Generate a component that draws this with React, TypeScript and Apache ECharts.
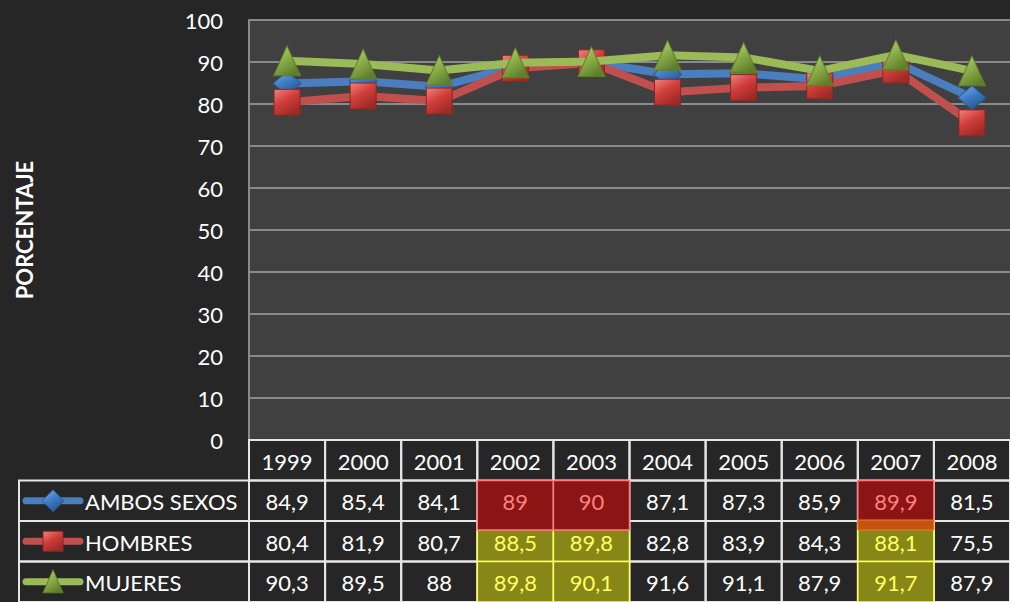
import { useEffect, useRef } from "react";
import * as echarts from "echarts";

const years = ["1999", "2000", "2001", "2002", "2003", "2004", "2005", "2006", "2007", "2008"];
const seriesNames = ["AMBOS SEXOS", "HOMBRES", "MUJERES"];
const ambos = [84.9, 85.4, 84.1, 89, 90, 87.1, 87.3, 85.9, 89.9, 81.5];
const hombres = [80.4, 81.9, 80.7, 88.5, 89.8, 82.8, 83.9, 84.3, 88.1, 75.5];
const mujeres = [90.3, 89.5, 88, 89.8, 90.1, 91.6, 91.1, 87.9, 91.7, 87.9];
// conditional highlight of table cells
const ambosMark = ["", "", "", "red", "red", "", "", "", "redOrange", ""];
const hombresMark = ["", "", "", "olive", "olive", "", "", "", "olive", ""];
const mujeresMark = ["", "", "", "olive", "olive", "", "", "", "olive", ""];
const yMin = 0;
const yMax = 100;
const yStep = 10;

const FONT = "Lato";
const BG = "#262626";
const COLORS = ["#4A7EBF", "#C0504D", "#9BBB59"];

const fmt = (v: number) => String(v).replace(".", ",");

type Cell = { value: [number, number]; text: string; mark: string };

function buildCells(): Cell[] {
  const cells: Cell[] = [];
  years.forEach((y, c) => cells.push({ value: [c, 0], text: y, mark: "" }));
  const rows = [hombres, mujeres, ambos];
  const marks = [hombresMark, mujeresMark, ambosMark];
  const rowIdx = [2, 3, 1];
  rows.forEach((arr, k) => {
    arr.forEach((v, c) => cells.push({ value: [c, rowIdx[k]], text: fmt(v), mark: marks[k][c] }));
  });
  return cells;
}

function grad(c1: string, c2: string, c3: string) {
  return new echarts.graphic.LinearGradient(0, 0, 0.6, 1, [
    { offset: 0, color: c1 },
    { offset: 0.5, color: c2 },
    { offset: 1, color: c3 },
  ]);
}

export default function App() {
  const ref = useRef<HTMLDivElement>(null);
  useEffect(() => {
    if (!ref.current) return;
    const chart = echarts.init(ref.current, undefined, { renderer: "svg" });
    const cells = buildCells();
    const labelData = seriesNames.map((n, i) => ({ value: [0, i + 1], name: n }));

    const cellRender = (params: any, api: any) => {
      const cell = cells[params.dataIndex];
      const c = api.coord([api.value(0), api.value(1)]);
      const s = api.size([1, 1]);
      const w = s[0];
      const h = s[1];
      const x0 = c[0] - w / 2;
      const y0 = c[1] - h / 2;
      const children: any[] = [];
      let fill = "transparent";
      let stroke = "#E6E6E6";
      let textFill = "#FFFFFF";
      let z2 = 1;
      if (cell.mark === "red" || cell.mark === "redOrange") {
        fill = "#8B1515";
        stroke = "#FF7C80";
        textFill = "#FF8080";
        z2 = 20;
      } else if (cell.mark === "olive") {
        fill = "#878717";
        stroke = "#FFFF66";
        textFill = "#FFFF66";
        z2 = 10;
      }
      if (cell.mark === "red") {
        children.push({
          type: "rect",
          shape: { x: x0, y: y0, width: w, height: h + 9 },
          style: { fill, stroke, lineWidth: 1.5 },
          z2,
        });
      } else if (cell.mark === "redOrange") {
        children.push({
          type: "rect",
          shape: { x: x0, y: y0, width: w, height: h },
          style: { fill, stroke, lineWidth: 1.5 },
          z2,
        });
        children.push({
          type: "rect",
          shape: { x: x0, y: y0 + h - 1, width: w, height: 10 },
          style: { fill: "#C5520F", stroke: "#F07A30", lineWidth: 1 },
          z2: z2 + 1,
        });
      } else {
        children.push({
          type: "rect",
          shape: { x: x0, y: y0, width: w, height: h },
          style: { fill, stroke, lineWidth: cell.mark ? 1.5 : 2 },
          z2,
        });
      }
      children.push({
        type: "text",
        style: {
          text: cell.text,
          x: c[0],
          y: c[1] + 1,
          align: "center",
          verticalAlign: "middle",
          fill: textFill,
          fontSize: 22,
          fontFamily: FONT,
        },
        z2: z2 + 5,
      });
      return { type: "group", children };
    };

    const labelRender = (params: any, api: any) => {
      const i = params.dataIndex;
      const c = api.coord([0, api.value(1)]);
      const s = api.size([1, 1]);
      const h = s[1];
      const right = params.coordSys.x;
      const left = 19;
      const y0 = c[1] - h / 2;
      const cy = c[1];
      const col = COLORS[i];
      const children: any[] = [
        {
          type: "rect",
          shape: { x: left, y: y0, width: right - left, height: h },
          style: { fill: "transparent", stroke: "#E6E6E6", lineWidth: 2 },
        },
        {
          type: "line",
          shape: { x1: 26, y1: cy, x2: 80, y2: cy },
          style: { stroke: col, lineWidth: 7, lineCap: "round" },
        },
      ];
      const mx = 53;
      if (i === 0) {
        children.push({
          type: "polygon",
          shape: { points: [[mx, cy - 11], [mx + 11, cy], [mx, cy + 11], [mx - 11, cy]] },
          style: { fill: grad("#7FB0EA", "#3F7FC9", "#26578F"), stroke: "#2C5A8F", lineWidth: 1 },
        });
      } else if (i === 1) {
        children.push({
          type: "rect",
          shape: { x: mx - 10, y: cy - 10, width: 20, height: 20 },
          style: { fill: grad("#F08480", "#D03E3A", "#9E2A27"), stroke: "#8E2522", lineWidth: 1 },
        });
      } else {
        children.push({
          type: "polygon",
          shape: { points: [[mx, cy - 12], [mx + 10, cy + 11], [mx - 10, cy + 11]] },
          style: { fill: grad("#B9D77F", "#8DB04A", "#5F7E2B"), stroke: "#5F7E2B", lineWidth: 1 },
        });
      }
      children.push({
        type: "text",
        style: {
          text: seriesNames[i],
          x: 85,
          y: cy + 1,
          align: "left",
          verticalAlign: "middle",
          fill: "#FFFFFF",
          fontSize: 22,
          fontFamily: FONT,
        },
      });
      return { type: "group", children };
    };

    chart.setOption({
      animation: false,
      backgroundColor: BG,
      textStyle: { fontFamily: FONT },
      grid: [
        {
          left: 249,
          top: 20,
          width: 770,
          height: 420,
          show: true,
          backgroundColor: "#404040",
          borderWidth: 0,
        },
        { left: 249, top: 440, width: 770, height: 164 },
      ],
      xAxis: [
        { type: "category", gridIndex: 0, data: years, boundaryGap: true, show: false },
        { type: "category", gridIndex: 1, data: years, show: false },
      ],
      yAxis: [
        {
          type: "value",
          gridIndex: 0,
          min: yMin,
          max: yMax,
          interval: yStep,
          name: "PORCENTAJE",
          nameLocation: "middle",
          nameRotate: 90,
          nameGap: 214,
          nameTextStyle: { color: "#FFFFFF", fontSize: 22, fontWeight: "bold", fontFamily: FONT },
          axisLine: { show: true, lineStyle: { color: "#8A8A8A", width: 2 } },
          axisTick: { show: false },
          axisLabel: { color: "#FFFFFF", fontSize: 22, fontFamily: FONT, margin: 26 },
          splitLine: { show: true, lineStyle: { color: "#8A8A8A", width: 2 } },
        },
        {
          type: "category",
          gridIndex: 1,
          data: ["", ...seriesNames],
          inverse: true,
          show: false,
        },
      ],
      series: [
        {
          type: "line",
          name: seriesNames[0],
          data: ambos,
          symbol: "diamond",
          symbolSize: [28, 24],
          lineStyle: { color: COLORS[0], width: 8 },
          itemStyle: { color: grad("#7FB0EA", "#3F7FC9", "#26578F"), borderColor: "#2C5A8F", borderWidth: 1 },
          z: 3,
        },
        {
          type: "line",
          name: seriesNames[1],
          data: hombres,
          symbol: "rect",
          symbolSize: [26, 26],
          lineStyle: { color: COLORS[1], width: 8 },
          itemStyle: { color: grad("#F08480", "#D03E3A", "#9E2A27"), borderColor: "#8E2522", borderWidth: 1 },
          z: 4,
        },
        {
          type: "line",
          name: seriesNames[2],
          data: mujeres,
          symbol: "triangle",
          symbolSize: [27, 30],
          lineStyle: { color: COLORS[2], width: 8 },
          itemStyle: { color: grad("#B9D77F", "#8DB04A", "#5F7E2B"), borderColor: "#5F7E2B", borderWidth: 1 },
          z: 5,
        },
        {
          type: "custom",
          xAxisIndex: 1,
          yAxisIndex: 1,
          data: cells.map((c) => ({ value: c.value })),
          renderItem: cellRender,
          silent: true,
          clip: false,
        },
        {
          type: "custom",
          xAxisIndex: 1,
          yAxisIndex: 1,
          data: labelData,
          renderItem: labelRender,
          silent: true,
          clip: false,
        },
      ],
    });
    return () => chart.dispose();
  }, []);
  return (
    <div
      ref={ref}
      style={{ position: "fixed", left: 0, top: 0, width: 1010, height: 602 }}
    />
  );
}
